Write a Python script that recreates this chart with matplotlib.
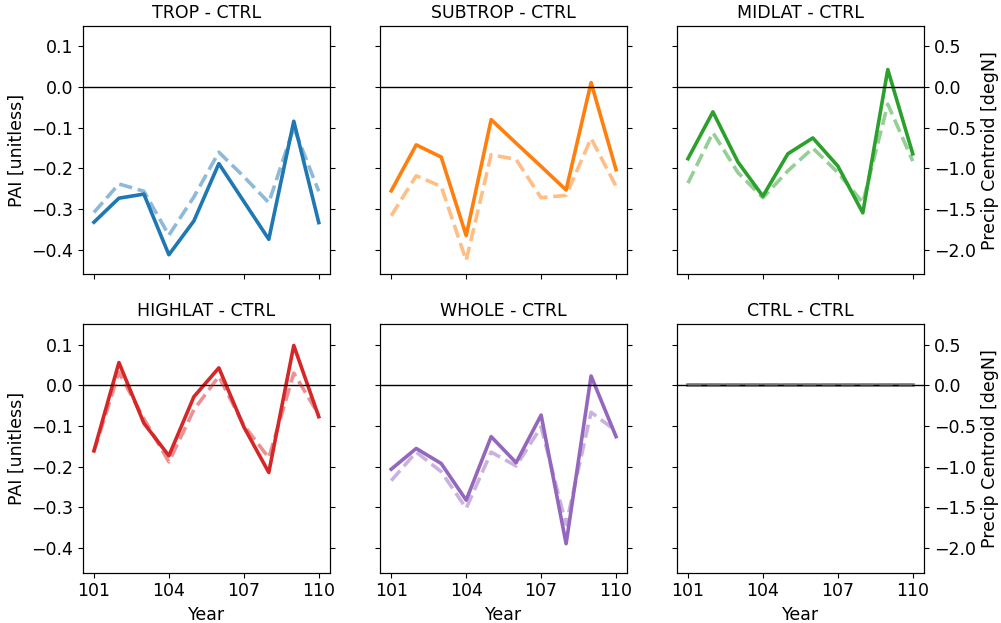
import matplotlib
matplotlib.use("Agg")
import matplotlib.pyplot as plt
import numpy as np

years = [101, 102, 103, 104, 105, 106, 107, 108, 109, 110]
titles = ["TROP - CTRL", "SUBTROP - CTRL", "MIDLAT - CTRL",
          "HIGHLAT - CTRL", "WHOLE - CTRL", "CTRL - CTRL"]
colors = ["#1f77b4", "#ff7f0e", "#2ca02c", "#d62728", "#9467bd", "#7f7f7f"]

# PAI [unitless] (solid)
pai_trop = [-0.332, -0.273, -0.263, -0.412, -0.329, -0.188, -0.281, -0.374, -0.084, -0.333]
pai_subtrop = [-0.255, -0.142, -0.172, -0.365, -0.080, -0.138, -0.195, -0.253, 0.011, -0.203]
pai_midlat = [-0.176, -0.061, -0.184, -0.268, -0.164, -0.125, -0.194, -0.309, 0.043, -0.164]
pai_highlat = [-0.161, 0.056, -0.093, -0.173, -0.028, 0.043, -0.102, -0.214, 0.098, -0.077]
pai_whole = [-0.206, -0.155, -0.192, -0.282, -0.126, -0.190, -0.073, -0.389, 0.023, -0.126]
pai_ctrl = [0, 0, 0, 0, 0, 0, 0, 0, 0, 0]

# Precip centroid [degN] (dashed)
pc_trop = [-1.54, -1.19, -1.28, -1.82, -1.35, -0.80, -1.10, -1.42, -0.50, -1.28]
pc_subtrop = [-1.58, -1.09, -1.22, -2.13, -0.83, -0.89, -1.36, -1.33, -0.63, -1.22]
pc_midlat = [-1.18, -0.56, -1.05, -1.36, -1.03, -0.75, -1.05, -1.42, -0.21, -0.91]
pc_highlat = [-0.81, 0.16, -0.41, -0.94, -0.30, 0.11, -0.49, -0.89, 0.15, -0.36]
pc_whole = [-1.17, -0.82, -1.06, -1.51, -0.82, -0.99, -0.51, -1.71, -0.33, -0.56]
pc_ctrl = [0, 0, 0, 0, 0, 0, 0, 0, 0, 0]

pai_all = [pai_trop, pai_subtrop, pai_midlat, pai_highlat, pai_whole, pai_ctrl]
pc_all = [pc_trop, pc_subtrop, pc_midlat, pc_highlat, pc_whole, pc_ctrl]

FS = 12.5
plt.rcParams['font.family'] = ['DejaVu Sans']
plt.rcParams['font.size'] = FS

fig = plt.figure(figsize=(10.01, 6.23), dpi=100)
W, H = 1001, 623
lefts = [82.7, 380, 676.7]
tops = [26, 324.3]
aw, ah = 247.3, 248.3

for i in range(6):
    r, c = divmod(i, 3)
    x0 = lefts[c] / W
    y0 = 1 - (tops[r] + ah) / H
    ax = fig.add_axes([x0, y0, aw / W, ah / H])
    ax2 = ax.twinx()
    ax.plot(years, pai_all[i], color=colors[i], lw=2.6)
    ax.axhline(0, color='k', lw=1)
    ax2.plot(years, pc_all[i], color=colors[i], lw=2.6, ls='--', alpha=0.5)
    ax.set_ylim(-0.46, 0.15)
    ax2.set_ylim(-2.3, 0.75)
    ax.set_yticks([-0.4, -0.3, -0.2, -0.1, 0.0, 0.1])
    ax2.set_yticks([-2.0, -1.5, -1.0, -0.5, 0.0, 0.5])
    ax.set_xticks([101, 104, 107, 110])
    ax.set_title(titles[i], fontsize=FS)
    ax.tick_params(labelsize=FS)
    ax2.tick_params(labelsize=FS)
    if c == 0:
        ax.set_ylabel("PAI [unitless]", fontsize=FS)
    else:
        ax.set_yticklabels([])
    if c == 2:
        ax2.set_ylabel("Precip Centroid [degN]", fontsize=FS)
    else:
        ax2.set_yticklabels([])
    if r == 1:
        ax.set_xlabel("Year", fontsize=FS)
    else:
        ax.set_xticklabels([])

fig.savefig("out.png", dpi=100)
